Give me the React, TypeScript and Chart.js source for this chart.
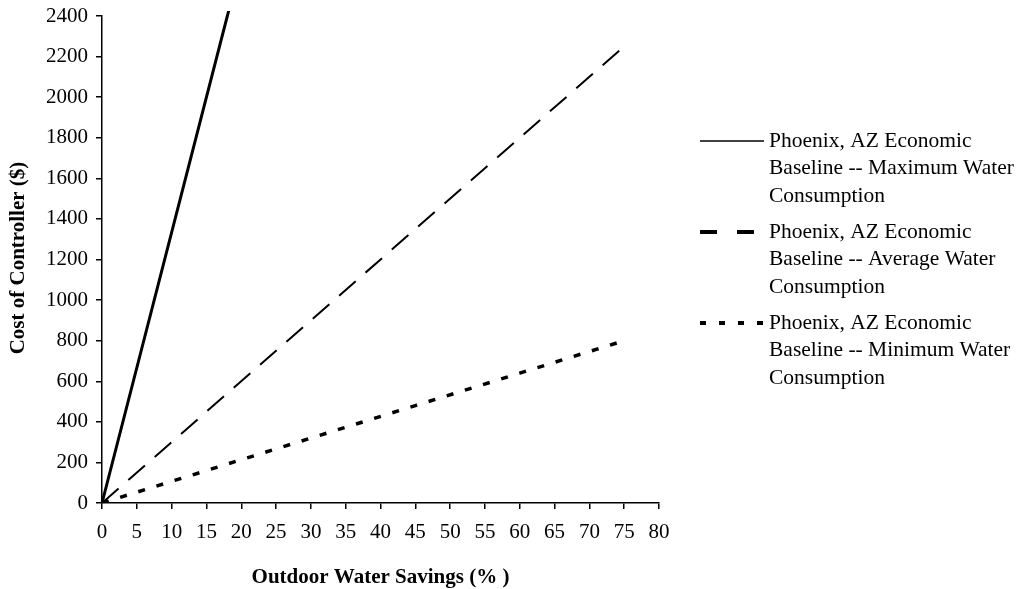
import React, { useEffect, useRef } from "react";
import { Chart, registerables } from "chart.js";

Chart.register(...registerables);

const savings = [0, 15, 30, 45, 60, 75];
const maxCost = [0, 2000, 4000, 6000, 8000, 10000];
const avgCost = [0, 450, 900, 1350, 1800, 2250];
const minCost = [0, 160, 320, 480, 640, 800];

const seriesNames = [
  "Phoenix, AZ Economic Baseline -- Maximum Water Consumption",
  "Phoenix, AZ Economic Baseline -- Average Water Consumption",
  "Phoenix, AZ Economic Baseline -- Minimum Water Consumption",
];
const legendLines = [
  ["Phoenix, AZ Economic", "Baseline -- Maximum Water", "Consumption"],
  ["Phoenix, AZ Economic", "Baseline -- Average Water", "Consumption"],
  ["Phoenix, AZ Economic", "Baseline -- Minimum Water", "Consumption"],
];
const xTitle = "Outdoor Water Savings (% )";
const yTitle = "Cost of Controller ($)";
const xMin = 0, xMax = 80, xStep = 5;
const yMin = 0, yMax = 2400, yStep = 200;

const FONT = '"Liberation Serif", "Times New Roman", serif';

const legendStyles = [
  { width: 1.6, dash: [] as number[] },
  { width: 4, dash: [17, 20] },
  { width: 4, dash: [6, 13] },
];

const overlay = {
  id: "overlay",
  afterDraw(chart: any) {
    const ctx = chart.ctx as CanvasRenderingContext2D;
    const area = chart.chartArea;
    ctx.save();
    ctx.fillStyle = "#000";
    ctx.font = `bold 21px ${FONT}`;
    ctx.textAlign = "center";
    ctx.textBaseline = "middle";
    ctx.fillText(xTitle, (area.left + area.right) / 2, 578);
    ctx.save();
    ctx.translate(19, 258);
    ctx.rotate(-Math.PI / 2);
    ctx.fillText(yTitle, 0, 0);
    ctx.restore();

    // legend
    const tops = [141, 232, 323];
    const lineGap = 27.5;
    ctx.font = `21.5px ${FONT}`;
    ctx.textAlign = "left";
    legendLines.forEach((lines, i) => {
      const y0 = tops[i];
      const st = legendStyles[i];
      ctx.save();
      ctx.strokeStyle = "#000";
      ctx.lineWidth = st.width;
      ctx.setLineDash(st.dash);
      ctx.beginPath();
      ctx.moveTo(700, y0);
      ctx.lineTo(764, y0);
      ctx.stroke();
      ctx.restore();
      lines.forEach((t, j) => {
        ctx.fillText(t, 769, y0 + j * lineGap);
      });
    });
    ctx.restore();
  },
};

export default function App() {
  const ref = useRef<HTMLCanvasElement | null>(null);
  useEffect(() => {
    if (!ref.current) return;
    const mk = (vals: number[]) => savings.map((x, i) => ({ x, y: vals[i] }));
    const chart = new Chart(ref.current, {
      type: "line",
      data: {
        datasets: [
          {
            label: seriesNames[0],
            data: mk(maxCost),
            borderColor: "#000",
            borderWidth: 3,
            pointRadius: 0,
            fill: false,
            clip: { left: 5, top: 5, right: 5, bottom: 5 } as any,
          },
          {
            label: seriesNames[1],
            data: mk(avgCost),
            borderColor: "#000",
            borderWidth: 2,
            borderDash: [22, 13],
            pointRadius: 0,
            fill: false,
          },
          {
            label: seriesNames[2],
            data: mk(minCost),
            borderColor: "#000",
            borderWidth: 3.5,
            borderDash: [7, 12],
            pointRadius: 0,
            fill: false,
          },
        ],
      },
      options: {
        responsive: false,
        animation: false,
        layout: { padding: { left: 0, top: 16, right: 367, bottom: 0 } },
        plugins: { legend: { display: false }, tooltip: { enabled: false } },
        scales: {
          x: {
            type: "linear",
            min: xMin,
            max: xMax,
            afterFit: (s: any) => { s.height = 86; s.paddingLeft = 0; s.paddingRight = 0; },
            ticks: {
              stepSize: xStep,
              color: "#000",
              font: { family: FONT, size: 21 },
              padding: 11,
              maxRotation: 0,
              callback: (v: any) => String(v),
            },
            grid: { drawOnChartArea: false, drawTicks: true, tickLength: 6, color: "#000", lineWidth: 1.5 },
            border: { display: true, color: "#000", width: 1.5 },
          },
          y: {
            type: "linear",
            min: yMin,
            max: yMax,
            afterFit: (s: any) => { s.width = 102; s.paddingTop = 0; s.paddingBottom = 0; },
            ticks: {
              stepSize: yStep,
              color: "#000",
              font: { family: FONT, size: 21 },
              padding: 8,
              callback: (v: any) => String(v),
            },
            grid: { drawOnChartArea: false, drawTicks: true, tickLength: 6, color: "#000", lineWidth: 1.5 },
            border: { display: true, color: "#000", width: 1.5 },
          },
        },
      },
      plugins: [overlay],
    });
    return () => chart.destroy();
  }, []);
  return (
    <div style={{ position: "fixed", left: 0, top: 0, width: 1026, height: 589, background: "#fff" }}>
      <canvas ref={ref} width={1026} height={589} style={{ width: 1026, height: 589 }} />
    </div>
  );
}
